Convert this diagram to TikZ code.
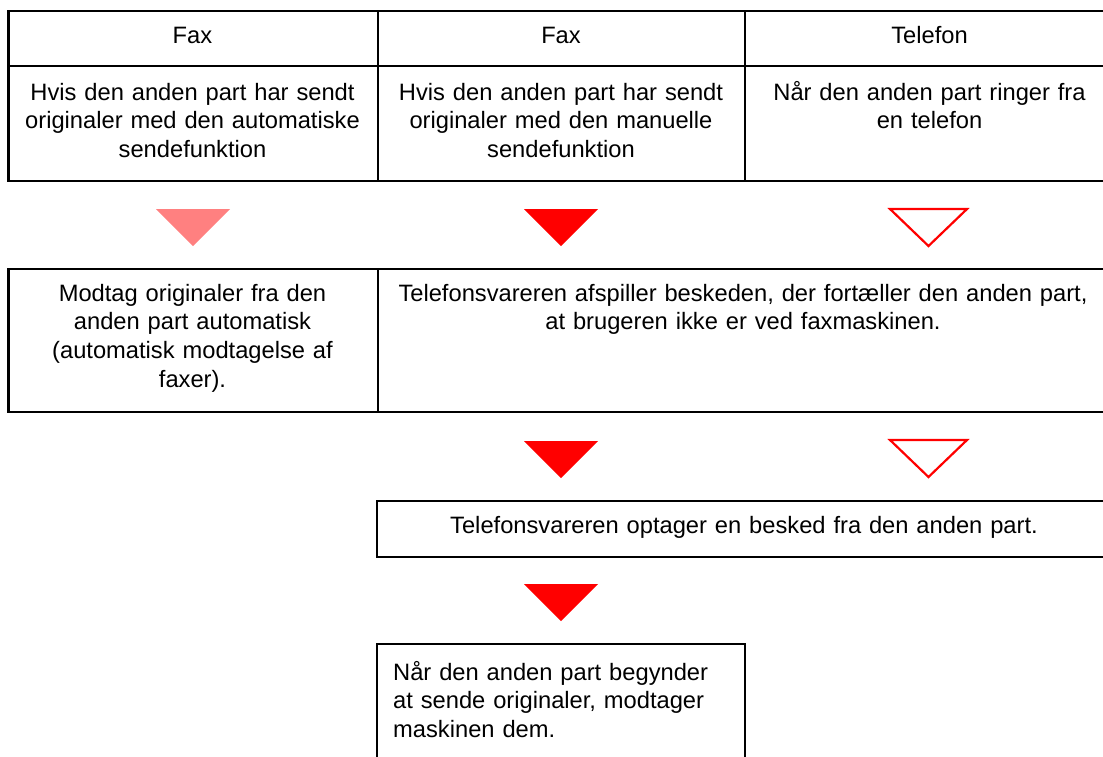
\documentclass[tikz,border=0pt]{standalone}
\usepackage{fontspec}
\setmainfont{Liberation Sans}
\begin{document}
\begin{tikzpicture}[x=1pt,y=-1pt,
  txt/.style={inner sep=0pt,anchor=base,text width=370pt,align=center,
    font=\fontsize{23.7}{28.7}\selectfont},
  wide/.style={txt,text width=720pt},
  rule/.style={line width=2.6pt,line cap=rect},
  tri/.style={fill=red},
  tripale/.style={fill={rgb,255:red,255;green,128;blue,128}},
  triopen/.style={draw=red,line width=2.2pt,fill=white,line join=miter}]
\useasboundingbox (0,0) rectangle (1103,756);
% table
\draw[rule] (8.5,11) -- (1110,11);
\draw[rule] (8.5,66) -- (1110,66);
\draw[rule] (8.5,181) -- (1110,181);
\draw[rule] (8.5,11) -- (8.5,181);
\draw[rule] (378,11) -- (378,181);
\draw[rule] (745,11) -- (745,181);
\node[txt] (h1) at (192.5,43) {Fax};
\node[txt] (h2) at (561,43) {Fax};
\node[txt] (h3) at (929.5,43) {Telefon};
\node[txt] (b1) at (192.5,100) {Hvis den anden part har sendt\\originaler med den automatiske\\sendefunktion};
\node[txt] (b2) at (561,100) {Hvis den anden part har sendt\\originaler med den manuelle\\sendefunktion};
\node[txt] (b3) at (929.5,100) {Når den anden part ringer fra\\en telefon};
% triangles row 1
\fill[tripale] (156,209) -- (230,209) -- (193,246) -- cycle;
\fill[tri] (524,209) -- (598,209) -- (561,246) -- cycle;
\draw[triopen] (890,209) -- (967,209) -- (928.5,246) -- cycle;
% row 2 boxes
\draw[rule] (8.5,269) -- (1110,269);
\draw[rule] (8.5,412) -- (1110,412);
\draw[rule] (8.5,269) -- (8.5,412);
\draw[rule] (378,269) -- (378,412);
\node[txt] (m1) at (192.5,301) {Modtag originaler fra den\\anden part automatisk\\(automatisk modtagelse af\\faxer).};
\node[wide] (m2) at (743,301) {Telefonsvareren afspiller beskeden, der fortæller den anden part,\\at brugeren ikke er ved faxmaskinen.};
% triangles row 2
\fill[tri] (524,441) -- (598,441) -- (561,478) -- cycle;
\draw[triopen] (890,440) -- (967,440) -- (928.5,477) -- cycle;
% row 3 box
\draw[rule] (1110,501) -- (377,501) -- (377,557) -- (1110,557);
\node[wide] (r1) at (744,533) {Telefonsvareren optager en besked fra den anden part.};
% triangle row 3
\fill[tri] (524,584) -- (598,584) -- (561,621) -- cycle;
% row 4 box
\draw[rule] (377,770) -- (377,644) -- (745,644) -- (745,770);
\node[txt,anchor=base west,align=left,text width=345pt] (n1) at (393,680) {Når den anden part begynder\\at sende originaler, modtager\\maskinen dem.};
\end{tikzpicture}
\end{document}
